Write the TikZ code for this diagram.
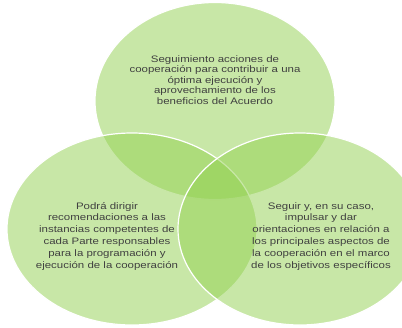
\documentclass[tikz,border=0pt]{standalone}
\usepackage{fontspec}
\setmainfont[FakeStretch=1.22]{Liberation Sans}
\usetikzlibrary{shapes.geometric}
\definecolor{leaf}{RGB}{146,208,80}
\definecolor{ink}{RGB}{64,64,64}
\tikzset{
  petal/.style={ellipse, draw=white, line width=1.2pt, fill=leaf, fill opacity=0.5, inner sep=0pt},
  label text/.style={text=ink, align=center, font=\fontsize{9.4}{11.8}\selectfont, inner sep=0pt}
}
\begin{document}
\begin{tikzpicture}[x=1pt,y=-1pt]
  \useasboundingbox (0,0) rectangle (402,327);
  \clip (0,0) rectangle (402,327);
  % three overlapping petals
  \node[petal, minimum width=240pt, minimum height=197pt] (top) at (215,101) {};
  \node[petal, minimum width=250pt, minimum height=192pt] (left) at (132,229) {};
  \node[petal, minimum width=244pt, minimum height=192pt] (right) at (300,229) {};
  % petal texts
  \node[label text, font=\fontsize{9.4}{10.6}\selectfont, anchor=north] (ttop) at (215,55)
    {Seguimiento acciones de\\cooperación para contribuir a una\\óptima ejecución y\\aprovechamiento de los\\beneficios del Acuerdo};
  \node[label text, anchor=north] (tleft) at (107,202)
    {Podrá dirigir\\recomendaciones a las\\instancias competentes de\\cada Parte responsables\\para la programación y\\ejecución de la cooperación};
  \node[label text, anchor=north] (tright) at (321,202)
    {Seguir y, en su caso,\\impulsar y dar\\orientaciones en relación a\\los principales aspectos de\\la cooperación en el marco\\de los objetivos específicos};
\end{tikzpicture}
\end{document}
